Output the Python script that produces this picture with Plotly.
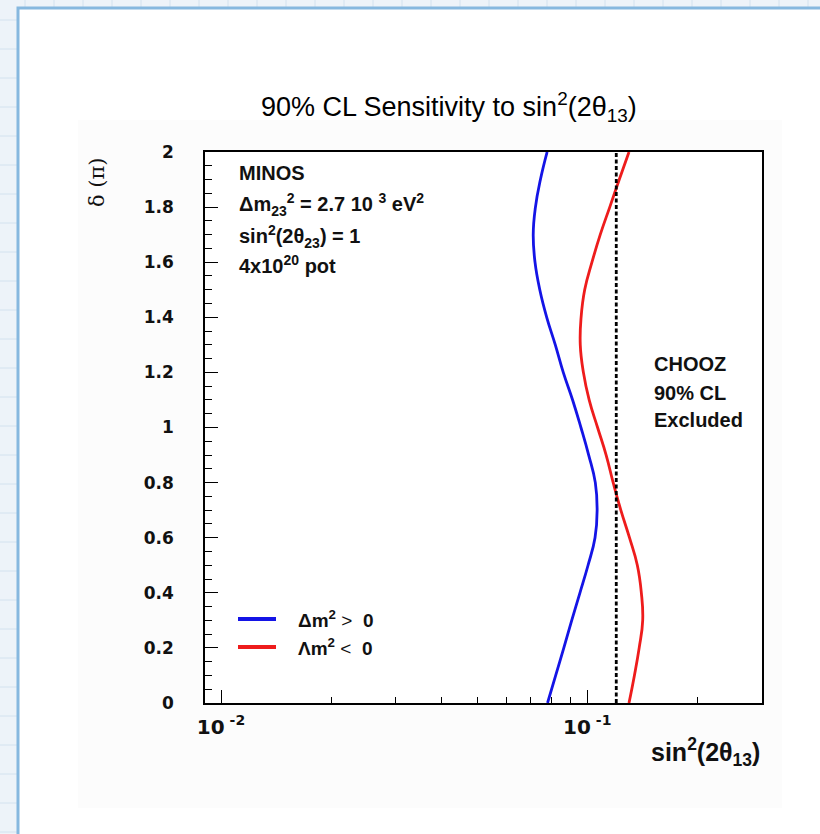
import plotly.graph_objects as go

# CP phase delta in units of pi
delta_pi = [0.0, 0.1, 0.2, 0.3, 0.4, 0.5, 0.6, 0.7, 0.8, 0.9, 1.0,
            1.1, 1.2, 1.3, 1.4, 1.5, 1.6, 1.7, 1.8, 1.9, 2.0]

# 90% CL sensitivity in sin^2(2 theta_13), normal hierarchy (dm^2 > 0)
sens_normal = [0.0779, 0.0820, 0.0863, 0.0907, 0.0955, 0.1005, 0.1050, 0.1064,
               0.1052, 0.1009, 0.0961, 0.0912, 0.0860, 0.0818, 0.0775, 0.0742,
               0.0720, 0.0712, 0.0722, 0.0745, 0.0777]

# inverted hierarchy (dm^2 < 0)
sens_inverted = [0.1300, 0.1345, 0.1386, 0.1417, 0.1405, 0.1370, 0.1304, 0.1235,
                 0.1177, 0.1126, 0.1067, 0.1012, 0.0976, 0.0957, 0.0962, 0.0984,
                 0.1030, 0.1085, 0.1152, 0.1223, 0.1300]

# CHOOZ 90% CL exclusion limit
chooz_limit = 0.12

y_tickvals = [0, 0.2, 0.4, 0.6, 0.8, 1.0, 1.2, 1.4, 1.6, 1.8, 2.0]
y_ticktext = ["0", "0.2", "0.4", "0.6", "0.8", "1", "1.2", "1.4", "1.6", "1.8", "2"]
x_tickvals = [0.01, 0.1]
x_ticktext = ["10<sup> -2</sup>", "10<sup> -1</sup>"]
x_minor = [0.02, 0.03, 0.04, 0.05, 0.06, 0.07, 0.08, 0.09, 0.2, 0.3]

W, H = 820, 834
L, R, T, B = 205, 762, 152, 703
PW, PH = R - L, B - T


def px(x):
    return (x - L) / PW


def py(y):
    return (B - y) / PH


BLUE = "#1414e6"
RED = "#ee1c1c"
FONT = "Liberation Sans, Arial, sans-serif"
WIDE = "DejaVu Sans, sans-serif"
INK = "#111111"

fig = go.Figure()

fig.add_trace(go.Scatter(
    x=sens_normal, y=delta_pi, mode="lines",
    line=dict(color=BLUE, width=2.8, shape="spline", smoothing=1.3),
    showlegend=False, hoverinfo="skip"))
fig.add_trace(go.Scatter(
    x=sens_inverted, y=delta_pi, mode="lines",
    line=dict(color=RED, width=2.8, shape="spline", smoothing=1.3),
    showlegend=False, hoverinfo="skip"))
fig.add_trace(go.Scatter(
    x=[chooz_limit, chooz_limit], y=[0, 2], mode="lines",
    line=dict(color="black", width=2.8, dash="4px,2.5px"),
    showlegend=False, hoverinfo="skip"))

shapes = []
# slide background with faint grid, and the white panel
for gx in range(-4, W, 29):
    shapes.append(dict(type="line", xref="paper", yref="paper",
                       x0=px(gx), x1=px(gx), y0=py(0), y1=py(8),
                       line=dict(color="#d3e2ef", width=1), layer="below"))
for gy in range(20, H, 29):
    shapes.append(dict(type="line", xref="paper", yref="paper",
                       x0=px(0), x1=px(17), y0=py(gy), y1=py(gy),
                       line=dict(color="#d3e2ef", width=1), layer="below"))
shapes.append(dict(type="rect", xref="paper", yref="paper",
                   x0=px(18), x1=px(W + 5), y0=py(H + 5), y1=py(8),
                   fillcolor="white", line=dict(color="#86b8df", width=3),
                   layer="below"))
shapes.append(dict(type="rect", xref="paper", yref="paper",
                   x0=px(78), x1=px(782), y0=py(808), y1=py(120),
                   fillcolor="#fcfcfc", line=dict(width=0), layer="below"))
shapes.append(dict(type="rect", xref="paper", yref="paper",
                   x0=0, x1=1, y0=0, y1=1,
                   fillcolor="white", line=dict(width=0), layer="below"))
# legend line samples
shapes.append(dict(type="line", xref="paper", yref="paper",
                   x0=px(238), x1=px(276), y0=py(619), y1=py(619),
                   line=dict(color=BLUE, width=4)))
shapes.append(dict(type="line", xref="paper", yref="paper",
                   x0=px(238), x1=px(276), y0=py(647), y1=py(647),
                   line=dict(color=RED, width=4)))

ann = []


def text(x, y, s, size, family=FONT, xanchor="left", color=INK, angle=0):
    ann.append(dict(x=px(x), y=py(y), xref="paper", yref="paper", text=s,
                    showarrow=False, xanchor=xanchor, yanchor="middle",
                    textangle=angle,
                    font=dict(family=family, size=size, color=color)))


text(449, 107, "90% CL Sensitivity to sin<sup>2</sup>(2θ<sub>13</sub>)", 27,
     xanchor="center", color="#000000")
text(97, 182, "δ (π)", 21, family="DejaVu Serif, serif", xanchor="center", angle=-90)
text(762, 752, "<b>sin<sup>2</sup>(2θ<sub>13</sub>)</b>", 25, xanchor="right")

text(237, 173, "<b>MINOS</b>", 20)
text(237, 204, "<b>Δm<sub>23</sub><sup>2</sup> = 2.7 10 <sup>3</sup> eV<sup>2</sup></b>", 20)
text(237, 236, "<b>sin<sup>2</sup>(2θ<sub>23</sub>) = 1</b>", 20)
text(237, 264, "<b>4x10<sup>20</sup> pot</b>", 20)

text(652, 364, "<b>CHOOZ</b>", 20)
text(652, 393, "<b>90% CL</b>", 20)
text(652, 420, "<b>Excluded</b>", 20)

text(296, 619, "<b>Δm<sup>2</sup></b> >  <b>0</b>", 19)
text(296, 647, "<b>Λm<sup>2</sup></b> <  <b>0</b>", 19)

fig.update_layout(
    width=W, height=H,
    margin=dict(l=L, r=W - R, t=T, b=H - B, pad=0),
    paper_bgcolor="#edf3f9",
    plot_bgcolor="rgba(0,0,0,0)",
    shapes=shapes, annotations=ann, showlegend=False,
    xaxis=dict(
        type="log", range=[-2.0437, -0.5229],
        tickmode="array", tickvals=x_tickvals, ticktext=x_ticktext,
        ticks="inside", ticklen=13, tickwidth=1.3, tickcolor="black",
        minor=dict(tickmode="array", tickvals=x_minor, ticks="inside",
                   ticklen=6, tickwidth=1.2, tickcolor="black", showgrid=False),
        showline=True, linecolor="black", linewidth=1.5, mirror=True,
        showgrid=False, zeroline=False, ticklabelstandoff=5,
        tickfont=dict(family=WIDE, size=20, color=INK, weight="bold"),
    ),
    yaxis=dict(
        range=[0, 2],
        tickmode="array", tickvals=y_tickvals, ticktext=y_ticktext,
        ticks="inside", ticklen=13, tickwidth=1.3, tickcolor="black",
        minor=dict(dtick=0.05, tick0=0, ticks="inside", ticklen=7,
                   tickwidth=1.2, tickcolor="black", showgrid=False),
        showline=True, linecolor="black", linewidth=1.5, mirror=True,
        showgrid=False, zeroline=False, ticklabelstandoff=26,
        tickfont=dict(family=WIDE, size=17, color=INK, weight="bold"),
    ),
)

fig.write_html("out.html")
